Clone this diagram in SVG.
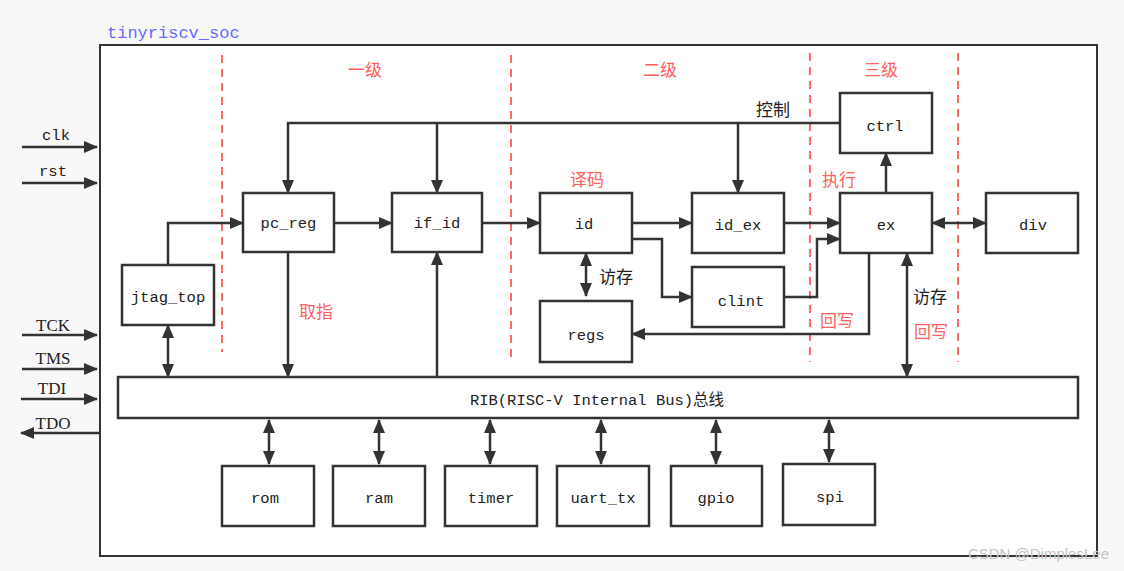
<svg xmlns="http://www.w3.org/2000/svg" width="1124" height="571" viewBox="0 0 1124 571">
<style>
.box{fill:#fff;stroke:#333;stroke-width:2.5}
.t{font-family:"Liberation Mono","Noto Sans CJK SC",monospace;font-size:15.5px;fill:#222;text-anchor:middle}
.s{font-family:"Liberation Serif",serif;font-size:17px;fill:#222;text-anchor:middle}
.cn{font-family:"Noto Sans CJK SC",sans-serif;font-size:17px}
.red{fill:#ff5f5f}
.blk{fill:#222}
.w{stroke:#333;stroke-width:2.5;fill:none}
.d{stroke:#ff6b6b;stroke-width:2;stroke-dasharray:8,6;fill:none}
</style>
<defs>
<marker id="a" markerUnits="userSpaceOnUse" markerWidth="14" markerHeight="12" refX="13" refY="6" orient="auto-start-reverse"><path d="M0,0 L14,6 L0,12 z" fill="#333"/></marker>
</defs>
<rect x="0" y="0" width="1124" height="571" fill="#f8f8f8"/>
<rect x="100" y="45" width="997" height="511" fill="#fff" stroke="#333" stroke-width="2"/>
<text x="107" y="38" font-family="Liberation Mono,monospace" font-size="17" fill="#6a6aff">tinyriscv_soc</text>

<g id="stages">
<line class="d" x1="222" y1="55" x2="222" y2="352"/>
<line class="d" x1="511" y1="55" x2="511" y2="362"/>
<line class="d" x1="810" y1="53" x2="810" y2="362"/>
<line class="d" x1="958" y1="53" x2="958" y2="362"/>
<text class="cn red" x="365" y="76" text-anchor="middle">一级</text>
<text class="cn red" x="660" y="76" text-anchor="middle">二级</text>
<text class="cn red" x="881" y="76" text-anchor="middle">三级</text>
</g>

<g id="connectors">
<path class="w" d="M22,147 H97" marker-end="url(#a)"/>
<path class="w" d="M22,183 H97" marker-end="url(#a)"/>
<path class="w" d="M22,335 H97" marker-end="url(#a)"/>
<path class="w" d="M22,369 H97" marker-end="url(#a)"/>
<path class="w" d="M21,399 H97" marker-end="url(#a)"/>
<path class="w" d="M100,433 H21" marker-end="url(#a)"/>
<path class="w" d="M840,123 H288 V193" marker-end="url(#a)" stroke-width="2"/>
<path class="w" d="M437,123 V193" marker-end="url(#a)"/>
<path class="w" d="M738,123 V193" marker-end="url(#a)"/>
<path class="w" d="M168,265 V223 H243" marker-end="url(#a)"/>
<path class="w" d="M168,325 V377" marker-start="url(#a)" marker-end="url(#a)"/>
<path class="w" d="M288,252 V377" marker-end="url(#a)"/>
<path class="w" d="M437,377 V252" marker-end="url(#a)"/>
<path class="w" d="M334,223 H392" marker-end="url(#a)"/>
<path class="w" d="M482,223 H540" marker-end="url(#a)"/>
<path class="w" d="M632,223 H692" marker-end="url(#a)"/>
<path class="w" d="M632,239 H662 V297 H692" marker-end="url(#a)"/>
<path class="w" d="M586,253 V296" marker-start="url(#a)" marker-end="url(#a)"/>
<path class="w" d="M784,223 H840" marker-end="url(#a)"/>
<path class="w" d="M784,297 H817 V239 H840" marker-end="url(#a)"/>
<path class="w" d="M869,253 V334 H632" marker-end="url(#a)"/>
<path class="w" d="M886,193 V153" marker-end="url(#a)"/>
<path class="w" d="M932,223 H986" marker-start="url(#a)" marker-end="url(#a)"/>
<path class="w" d="M907,253 V377" marker-start="url(#a)" marker-end="url(#a)"/>
<path class="w" d="M269,420 V464" marker-start="url(#a)" marker-end="url(#a)"/>
<path class="w" d="M379,420 V464" marker-start="url(#a)" marker-end="url(#a)"/>
<path class="w" d="M490,420 V464" marker-start="url(#a)" marker-end="url(#a)"/>
<path class="w" d="M601,420 V464" marker-start="url(#a)" marker-end="url(#a)"/>
<path class="w" d="M716,420 V464" marker-start="url(#a)" marker-end="url(#a)"/>
<path class="w" d="M829,420 V462" marker-start="url(#a)" marker-end="url(#a)"/>
</g>

<g id="labels">
<text class="t" x="56" y="140">clk</text>
<text class="t" x="53" y="176">rst</text>
<text class="s" x="53" y="331">TCK</text>
<text class="s" x="53" y="364">TMS</text>
<text class="s" x="52" y="394">TDI</text>
<text class="s" x="53" y="429">TDO</text>
<text class="cn blk" x="773" y="116" text-anchor="middle">控制</text>
<text class="cn red" x="587" y="186" text-anchor="middle">译码</text>
<text class="cn red" x="839" y="186" text-anchor="middle">执行</text>
<text class="cn red" x="316" y="318" text-anchor="middle">取指</text>
<text class="cn blk" x="616" y="283" text-anchor="middle">访存</text>
<text class="cn red" x="837" y="327" text-anchor="middle">回写</text>
<text class="cn blk" x="930" y="303" text-anchor="middle">访存</text>
<text class="cn red" x="931" y="338" text-anchor="middle">回写</text>
</g>

<g id="pc_reg"><rect class="box" x="243" y="193" width="91" height="59"/><text class="t" x="288.5" y="228">pc_reg</text></g>
<g id="if_id"><rect class="box" x="392" y="193" width="90" height="59"/><text class="t" x="437" y="228">if_id</text></g>
<g id="jtag_top"><rect class="box" x="122" y="265" width="92" height="60"/><text class="t" x="168" y="302">jtag_top</text></g>
<g id="id"><rect class="box" x="540" y="193" width="92" height="60"/><text class="t" x="584" y="229">id</text></g>
<g id="id_ex"><rect class="box" x="692" y="193" width="92" height="60"/><text class="t" x="738" y="230">id_ex</text></g>
<g id="clint"><rect class="box" x="692" y="267" width="92" height="60"/><text class="t" x="741" y="306">clint</text></g>
<g id="regs"><rect class="box" x="540" y="301" width="92" height="61"/><text class="t" x="586" y="340">regs</text></g>
<g id="ctrl"><rect class="box" x="840" y="93" width="92" height="60"/><text class="t" x="885" y="131">ctrl</text></g>
<g id="ex"><rect class="box" x="840" y="193" width="92" height="60"/><text class="t" x="886" y="230">ex</text></g>
<g id="div"><rect class="box" x="986" y="193" width="92" height="60"/><text class="t" x="1033" y="230">div</text></g>
<g id="bus"><rect class="box" x="118" y="377" width="960" height="41"/><text class="t" x="597" y="405">RIB(RISC-V Internal Bus)总线</text></g>
<g id="rom"><rect class="box" x="222" y="466" width="92" height="60"/><text class="t" x="265" y="503">rom</text></g>
<g id="ram"><rect class="box" x="333" y="466" width="92" height="60"/><text class="t" x="379" y="503">ram</text></g>
<g id="timer"><rect class="box" x="445" y="466" width="92" height="60"/><text class="t" x="491" y="503">timer</text></g>
<g id="uart_tx"><rect class="box" x="557" y="466" width="92" height="60"/><text class="t" x="603" y="503">uart_tx</text></g>
<g id="gpio"><rect class="box" x="671" y="466" width="91" height="60"/><text class="t" x="716" y="503">gpio</text></g>
<g id="spi"><rect class="box" x="783" y="464" width="92" height="61"/><text class="t" x="830" y="502">spi</text></g>
<text x="1109" y="559" font-family="Liberation Sans,sans-serif" font-size="15" fill="#c4c4c4" text-anchor="end">CSDN @DimplesLee</text>
</svg>
